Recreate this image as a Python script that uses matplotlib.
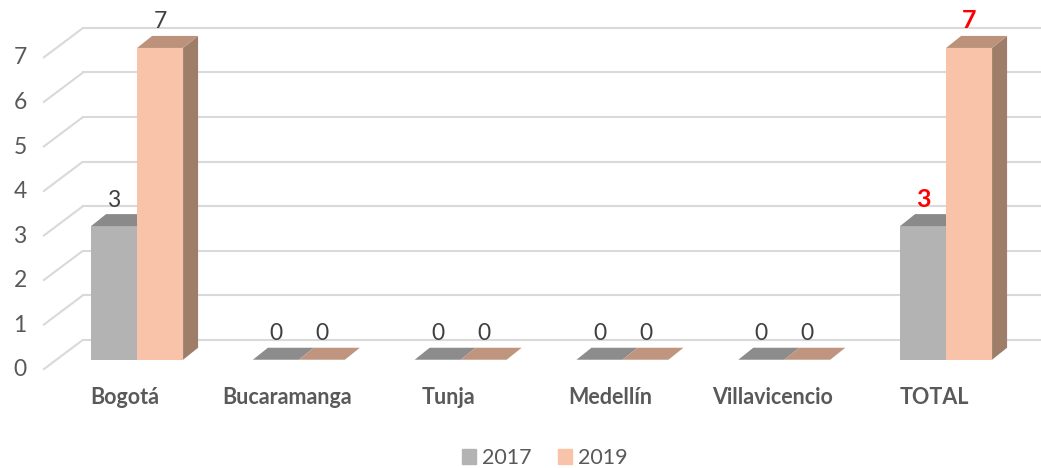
import matplotlib
matplotlib.use("Agg")
import matplotlib.pyplot as plt
from matplotlib.patches import Polygon, Patch

# data
ciudades = ["Bogotá", "Bucaramanga", "Tunja", "Medellín", "Villavicencio", "TOTAL"]
v2017 = [3, 0, 0, 0, 0, 3]
v2019 = [7, 0, 0, 0, 0, 7]
series = ["2017", "2019"]
yticks = [0, 1, 2, 3, 4, 5, 6, 7]

# colours: front, top, side
c17 = ("#b3b3b3", "#8a8a8a", "#7a7a7a")
c19 = ("#f8c3a8", "#bd927b", "#9e7e69")
c17_flat = "#8c8c8c"
c19_flat = "#c09580"
grid_c = "#d9d9d9"
txt_c = "#595959"

plt.rcParams['font.family'] = ['Lato', 'DejaVu Sans']

fig = plt.figure(figsize=(10.41, 4.68), dpi=100)
# axes scaled so 1 category = 161.8 px, 1 unit = 44.57 px
ax = fig.add_axes([40 / 1041, 86 / 468, 1001 / 1041, 378.6 / 468])
ax.set_xlim(-0.6, -0.6 + 1001 / 161.8)
ax.set_ylim(-0.5, 8)
ax.axis("off")

px_x = 1 / 161.8
px_y = 1 / 44.57

# wall geometry (front plane / back plane)
front_x, back_x = -0.581, -0.334
front_dy, back_dy = -10 * px_y, 20 * px_y
right_x = -0.6 + 1001 / 161.8

for t in yticks:
    ax.plot([front_x, back_x], [t + front_dy, t + back_dy], color=grid_c, lw=1.5,
            zorder=1, clip_on=False, solid_capstyle="butt")
    ax.plot([back_x, right_x], [t + back_dy, t + back_dy], color=grid_c, lw=1.5,
            zorder=1, clip_on=False)
    ax.text(-0.723, t + front_dy, str(t), ha="center", va="center",
            fontsize=16.5, color=txt_c)

bw = 46 * px_x
ddx = 15 * px_x
ddy = 12 * px_y


def bar3d(x0, v, cols, flat):
    x1 = x0 + bw
    if v > 0:
        ax.add_patch(Polygon([(x1, 0), (x1, v), (x1 + ddx, v + ddy), (x1 + ddx, ddy)],
                             closed=True, fc=cols[2], ec="none", zorder=2))
        ax.bar(x0, v, width=bw, align="edge", color=cols[0], zorder=3)
        ax.add_patch(Polygon([(x0, v), (x1, v), (x1 + ddx, v + ddy), (x0 + ddx, v + ddy)],
                             closed=True, fc=cols[1], ec="none", zorder=3))
    else:
        ax.add_patch(Polygon([(x0, 0), (x1, 0), (x1 + ddx, ddy), (x0 + ddx, ddy)],
                             closed=True, fc=flat, ec="none", zorder=3))


for i, name in enumerate(ciudades):
    bar3d(i - bw, v2017[i], c17, c17_flat)
    bar3d(i, v2019[i], c19, c19_flat)
    for x, v in [(i - bw / 2, v2017[i]), (i + bw / 2, v2019[i])]:
        if name == "TOTAL":
            ax.text(x, v + 27 * px_y, str(v), ha="center", va="center",
                    fontsize=18, fontweight="bold", color="#ff0000", zorder=5)
        else:
            ax.text(x, v + 26 * px_y, str(v), ha="center", va="center",
                    fontsize=16.5, color="#404040", zorder=5)
    ax.text(i - 12 * px_x, -38 * px_y, name, ha="center", va="center",
            fontsize=15.5, fontweight="bold", color=txt_c)

handles = [Patch(color=c17[0], label=series[0]), Patch(color=c19[0], label=series[1])]
fig.legend(handles=handles, loc="center", bbox_to_anchor=(545 / 1041, 1 - 458 / 468),
           ncol=2, frameon=False, fontsize=15.5, handlelength=0.65, handleheight=0.65,
           handletextpad=0.3, columnspacing=1.2, labelcolor=txt_c)

fig.savefig("out.png", dpi=100)
